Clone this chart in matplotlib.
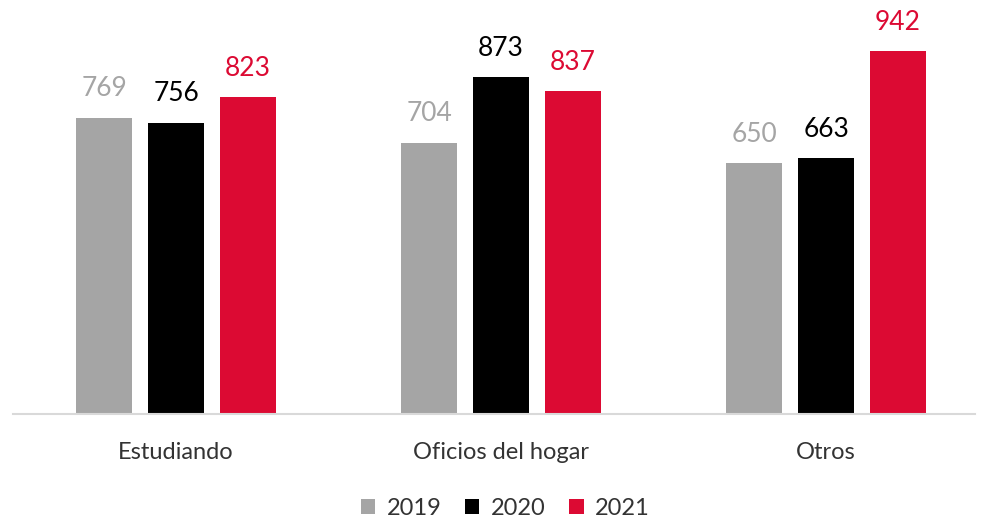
import numpy as np
import matplotlib.pyplot as plt

plt.rcParams['font.family'] = ['Lato', 'DejaVu Sans']

categories = ["Estudiando", "Oficios del hogar", "Otros"]
years = ["2019", "2020", "2021"]
v2019 = [769, 704, 650]
v2020 = [756, 873, 663]
v2021 = [823, 837, 942]

colors = ["#A5A5A5", "#000000", "#DC0A33"]

fig = plt.figure(figsize=(9.87, 5.22), dpi=100)
ax = fig.add_axes([13 / 987, 108 / 522, 962 / 987, 414 / 522])

x = np.arange(len(categories))
width = 0.172
offset = 0.2215

for i, (vals, col, yr) in enumerate(zip([v2019, v2020, v2021], colors, years)):
    pos = x + (i - 1) * offset
    ax.bar(pos, vals, width, color=col, label=yr)
    for p, v in zip(pos, vals):
        ax.text(p, v + 42, str(v), ha='center', va='bottom', fontsize=19,
                color=col)

ax.set_xlim(-0.5015, 2.458)
ax.set_ylim(0, 1074)
ax.set_yticks([])
ax.set_xticks(x)
ax.set_xticklabels(categories, fontsize=17, color='#333333')
ax.tick_params(axis='x', length=0, pad=20)
for s in ['top', 'right', 'left']:
    ax.spines[s].set_visible(False)
ax.spines['bottom'].set_color('#D9D9D9')
ax.spines['bottom'].set_linewidth(1.5)

fig.legend(loc='lower center', bbox_to_anchor=(0.512, -0.035), ncol=3,
           frameon=False, prop={'size': 17},
           handlelength=0.6, handleheight=0.6,
           handletextpad=0.5, columnspacing=1.0, labelcolor='#333333')

fig.savefig("out.png", dpi=100)
